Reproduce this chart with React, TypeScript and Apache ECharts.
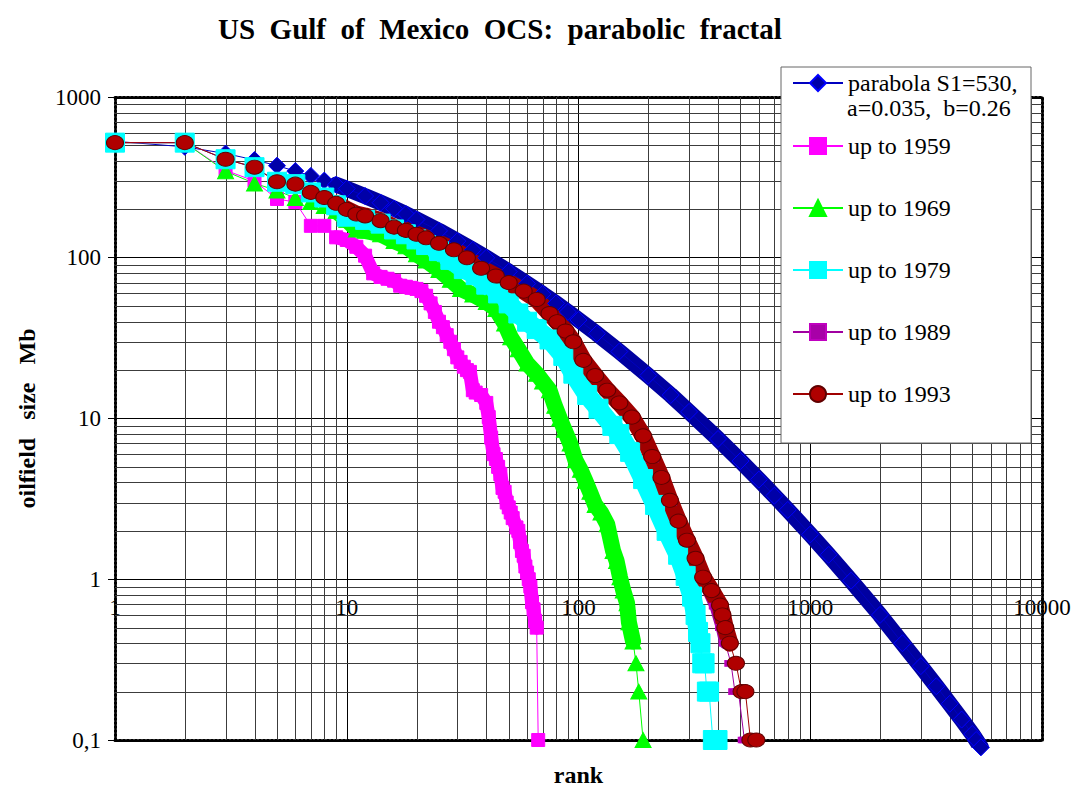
import React, { useEffect, useRef } from 'react';
import * as echarts from 'echarts';

const FONT = "'Liberation Serif', 'Times New Roman', serif";

// [rank, oilfield size Mb]
const parabola: [number, number][] = [
  [1, 530], [2, 490], [3, 445], [4, 406], [5, 374], [6, 346], [7, 323], [8, 302], [9, 285], [10, 269],
  [12, 242], [14, 220], [16, 202], [18, 187], [20, 173], [25, 147], [30, 127], [35, 112], [40, 100],
  [50, 82], [60, 69], [70, 59.5], [80, 52], [90, 46], [100, 41], [120, 33.7], [150, 26.1], [200, 18.5],
  [250, 14], [300, 11], [400, 7.46], [500, 5.44], [600, 4.17], [700, 3.31], [800, 2.7], [1000, 1.9],
  [1200, 1.42], [1500, 0.98], [2000, 0.6], [2500, 0.4], [3000, 0.288], [3500, 0.216], [4000, 0.168],
  [4500, 0.134], [5000, 0.109], [5200, 0.1], [5450, 0.09],
];

const upTo1959: [number, number][] = [
  [1, 520], [2, 520], [3, 350], [4, 300], [5, 232], [6, 222], [7, 158], [8, 158], [9, 134], [10, 129],
  [11, 117], [12, 103], [13, 80], [14, 76], [15, 74], [16, 72], [17, 67], [18, 66], [19, 65], [20, 64],
  [21, 62], [22, 58], [23, 52], [24, 46], [25, 40], [26, 37], [27, 33], [28, 30], [29, 27], [30, 24],
  [31, 22.5], [32, 21], [33, 20], [34, 19.5], [35, 15], [36, 14.5], [38, 14], [40, 12.5], [41, 10.2],
  [42, 7.6], [43, 6], [44, 5.6], [45, 5], [46, 4.5], [47, 3.7], [48, 3.5], [49, 3], [50, 2.8], [51, 2.6],
  [52, 2.4], [54, 2.1], [55, 2.0], [56, 1.7], [57, 1.5], [58, 1.4], [59, 1.2], [60, 1.1], [61, 1.0],
  [62, 0.9], [63, 0.72], [64, 0.65], [65, 0.55], [66, 0.5], [67, 0.1],
];

const upTo1969: [number, number][] = [
  [1, 520], [2, 520], [3, 345], [4, 290], [5, 262], [6, 235], [7, 222], [8, 210], [9, 195], [10, 172],
  [11, 150], [12, 147], [14, 140], [16, 127], [18, 118], [20, 105], [22, 96], [25, 84], [28, 73], [31, 64],
  [35, 59], [40, 53], [44, 48], [48, 39], [51, 32], [55, 27], [60, 22], [66, 19], [70, 17], [75, 15],
  [79, 12], [83, 10], [87, 8.5], [92, 7], [97, 5.5], [102, 4.8], [107, 4.1], [112, 3.5], [118, 2.9],
  [125, 2.6], [133, 2.2], [141, 1.5], [146, 1.3], [151, 1.03], [156, 0.85], [162, 0.71], [165, 0.54],
  [172, 0.41], [177, 0.3], [182, 0.2], [190, 0.1],
];

const upTo1979: [number, number][] = [
  [1, 520], [2, 520], [3, 410], [4, 366], [5, 297], [6, 287], [7, 255], [8, 237], [9, 212], [10, 180],
  [12, 172], [14, 163], [16, 150], [18, 140], [20, 130], [22, 120], [25, 110], [28, 97], [32, 85], [36, 78],
  [40, 68], [45, 60], [50, 52], [55, 45], [60, 40], [66, 36], [75, 31], [86, 24.5], [95, 19], [109, 14],
  [122, 11.5], [140, 9], [150, 8], [167, 6.2], [190, 4.2], [214, 2.9], [240, 2], [269, 1.42], [290, 1.05],
  [309, 0.78], [320, 0.6], [328, 0.47], [336, 0.4], [342, 0.3], [350, 0.3], [358, 0.2], [366, 0.2],
  [380, 0.1], [398, 0.1],
];

const upTo1989: [number, number][] = [
  [1, 520], [2, 520], [3, 410], [4, 366], [5, 297], [6, 287], [7, 255], [8, 237], [9, 218], [10, 200],
  [12, 180], [14, 168], [16, 154], [20, 138], [25, 121], [29, 110], [33, 98], [38, 85], [44, 76], [50, 69],
  [58, 61], [66, 54], [75, 44], [88, 34], [105, 22.5], [133, 14.7], [170, 10], [208, 5.6], [248, 3],
  [294, 1.7], [345, 1.0], [390, 0.68], [415, 0.5], [430, 0.4], [455, 0.3], [473, 0.2], [490, 0.2],
  [520, 0.1], [528, 0.1],
];

const upTo1993: [number, number][] = [
  [1, 520], [2, 520], [3, 410], [4, 366], [5, 297], [6, 287], [7, 255], [8, 237], [9, 218], [10, 200],
  [11, 187], [12, 182], [14, 170], [16, 155], [18, 148], [20, 140], [22, 133], [25, 123], [29, 112],
  [33, 100], [38, 86], [44, 77], [50, 70], [58, 62], [66, 55], [75, 45], [81, 40], [88, 35], [95, 30],
  [105, 23], [118, 18.5], [133, 15], [150, 12.5], [170, 10.2], [190, 7.8], [208, 5.8], [228, 4.3],
  [248, 3.1], [270, 2.3], [294, 1.75], [320, 1.35], [345, 1.03], [375, 0.85], [408, 0.69], [418, 0.6],
  [430, 0.5], [450, 0.4], [478, 0.3], [505, 0.2], [525, 0.2], [552, 0.1], [585, 0.1],
];

const minorX = [
  2, 3, 4, 5, 6, 7, 8, 9, 20, 30, 40, 50, 60, 70, 80, 90, 200, 300, 400, 500, 600, 700, 800, 900,
  2000, 3000, 4000, 5000, 6000, 7000, 8000, 9000,
];
const minorY = [
  0.2, 0.3, 0.4, 0.5, 0.6, 0.7, 0.8, 0.9, 2, 3, 4, 5, 6, 7, 8, 9, 20, 30, 40, 50, 60, 70, 80, 90,
  200, 300, 400, 500, 600, 700, 800, 900,
];

const PARABOLA_LINE1 = 'parabola S1=530,';
const PARABOLA_LINE2 = 'a=0.035,  b=0.26';

const NAMES = {
  parabola: PARABOLA_LINE1 + '\n' + PARABOLA_LINE2,
  y1959: 'up to 1959',
  y1969: 'up to 1969',
  y1979: 'up to 1979',
  y1989: 'up to 1989',
  y1993: 'up to 1993',
};

function makeSeries(
  name: string,
  data: [number, number][],
  symbol: string,
  symbolSize: number | number[],
  fill: string,
  border: string,
  lineColor: string,
  bandColor: string,
  bandWidth: number,
  bandMin: number,
  bandMax: number,
  clip = true,
) {
  return [
    {
      type: 'line',
      name: name + '-band',
      data: data.filter(([r]) => r >= bandMin && r <= bandMax),
      symbol: 'none',
      silent: true,
      clip: true,
      itemStyle: { color: bandColor },
      lineStyle: { color: bandColor, width: bandWidth, cap: 'round', join: 'round' },
    },
    {
      type: 'line',
      name,
      data,
      symbol,
      symbolSize,
      clip,
      silent: true,
      itemStyle: { color: fill, borderColor: border, borderWidth: 1 },
      lineStyle: { color: lineColor, width: 1 },
    },
  ];
}

const gridLineSeries = (vertical: boolean) => ({
  type: 'custom',
  silent: true,
  clip: true,
  data: vertical ? minorX.map((v) => [v, 1]) : minorY.map((v) => [1, v]),
  encode: { x: 0, y: 1 },
  renderItem: (params: any, api: any) => {
    const cs = params.coordSys;
    const p = api.coord([api.value(0), api.value(1)]);
    if (vertical) {
      const x = Math.round(p[0]) + 0.5;
      return { type: 'line', shape: { x1: x, y1: cs.y, x2: x, y2: cs.y + cs.height }, style: { stroke: '#3c3c3c', lineWidth: 1 } };
    }
    const y = Math.round(p[1]) + 0.5;
    return { type: 'line', shape: { x1: cs.x, y1: y, x2: cs.x + cs.width, y2: y }, style: { stroke: '#3c3c3c', lineWidth: 1 } };
  },
});

const borderLine = { show: true, lineStyle: { color: '#000', width: 3, type: [2, 2] } };
const legendText = { fontFamily: FONT, fontSize: 24, color: '#000', lineHeight: 24 };

function buildOption(): any {
  return {
    animation: false,
    backgroundColor: '#fff',
    title: {
      text: 'US  Gulf  of  Mexico  OCS:  parabolic  fractal',
      left: 213,
      top: 9,
      textStyle: { fontFamily: FONT, fontWeight: 'bold', fontSize: 29, color: '#000' },
    },
    grid: { left: 115, top: 97, right: 37, bottom: 49, containLabel: false, outerBoundsMode: 'none' },
    graphic: [
      {
        type: 'rect',
        z: 3,
        shape: { x: 781, y: 67, width: 250, height: 376 },
        style: { fill: '#fff', stroke: '#666', lineWidth: 1 },
        silent: true,
      },
      {
        type: 'text',
        z: 5,
        x: 847,
        y: 108,
        silent: true,
        style: {
          text: PARABOLA_LINE2,
          fill: '#000',
          font: '24px ' + FONT,
          textVerticalAlign: 'middle',
          verticalAlign: 'middle',
        },
      },
    ],
    legend: [
      {
        data: [NAMES.parabola],
        formatter: () => PARABOLA_LINE1,
        orient: 'vertical',
        left: 792,
        top: 71,
        padding: 0,
        itemWidth: 50,
        itemHeight: 20,
        z: 5,
        textStyle: legendText,
      },
      {
        data: [NAMES.y1959, NAMES.y1969, NAMES.y1979, NAMES.y1989, NAMES.y1993],
        orient: 'vertical',
        left: 792,
        top: 134,
        padding: 0,
        itemGap: 38,
        itemWidth: 50,
        itemHeight: 20,
        z: 5,
        textStyle: legendText,
      },
    ],
    xAxis: [
      {
        type: 'log',
        logBase: 10,
        min: 1,
        max: 10000,
        position: 'bottom',
        name: 'rank',
        nameLocation: 'middle',
        nameGap: 23,
        nameTextStyle: { fontFamily: FONT, fontWeight: 'bold', fontSize: 24, color: '#000' },
        axisLine: borderLine,
        axisTick: { show: false },
        axisLabel: {
          margin: -144,
          fontFamily: FONT,
          fontSize: 23,
          color: '#000',
          formatter: (v: number) => String(Math.round(v)),
        },
        splitLine: { show: true, lineStyle: { color: '#000', width: 1 } },
      },
      {
        type: 'log',
        logBase: 10,
        min: 1,
        max: 10000,
        position: 'top',
        axisLine: borderLine,
        axisTick: { show: false },
        axisLabel: { show: false },
        splitLine: { show: false },
      },
    ],
    yAxis: [
      {
        type: 'log',
        logBase: 10,
        min: 0.1,
        max: 1000,
        position: 'left',
        name: 'oilfield   size   Mb',
        nameLocation: 'middle',
        nameGap: 76,
        nameTextStyle: { fontFamily: FONT, fontWeight: 'bold', fontSize: 24, color: '#000' },
        axisLine: borderLine,
        axisTick: { show: true, length: 7, lineStyle: { color: '#000', width: 1 } },
        axisLabel: {
          margin: 14,
          fontFamily: FONT,
          fontSize: 23,
          color: '#000',
          formatter: (v: number) => (v < 0.5 ? '0,1' : String(Math.round(v))),
        },
        splitLine: { show: true, lineStyle: { color: '#000', width: 1 } },
      },
      {
        type: 'log',
        logBase: 10,
        min: 0.1,
        max: 1000,
        position: 'right',
        axisLine: borderLine,
        axisTick: { show: false },
        axisLabel: { show: false },
        splitLine: { show: false },
      },
    ],
    series: [
      gridLineSeries(true),
      gridLineSeries(false),
      ...makeSeries(NAMES.parabola, parabola, 'diamond', 17, '#0000a8', '#0000ff', '#0000c0', '#0000a0', 16, 9, 6000, false),
      ...makeSeries(NAMES.y1959, upTo1959, 'rect', 13, '#ff00ff', '#ff00ff', '#ff00ff', '#ff00ff', 14, 9, 66),
      ...makeSeries(NAMES.y1969, upTo1969, 'triangle', [16, 15], '#00ff00', '#00ff00', '#00ff00', '#00ff00', 16, 9, 172),
      ...makeSeries(NAMES.y1979, upTo1979, 'rect', 19, '#00ffff', '#00ffff', '#00ffff', '#00ffff', 19, 9, 336),
      ...makeSeries(NAMES.y1989, upTo1989, 'rect', [12, 6], '#a800a8', '#c000c0', '#a000a0', '#a000a0', 12, 9, 430),
      ...makeSeries(NAMES.y1993, upTo1993, 'circle', [17, 14], '#b00000', '#600000', '#a00000', '#a00000', 17, 9, 450),
    ],
  };
}

export default function App() {
  const ref = useRef<HTMLDivElement>(null);
  useEffect(() => {
    const chart = echarts.init(ref.current!, null, { renderer: 'svg' });
    chart.setOption(buildOption());
    return () => chart.dispose();
  }, []);
  return (
    <div
      ref={ref}
      style={{ position: 'fixed', left: 0, top: 0, width: 1079, height: 789, background: '#fff' }}
    />
  );
}
